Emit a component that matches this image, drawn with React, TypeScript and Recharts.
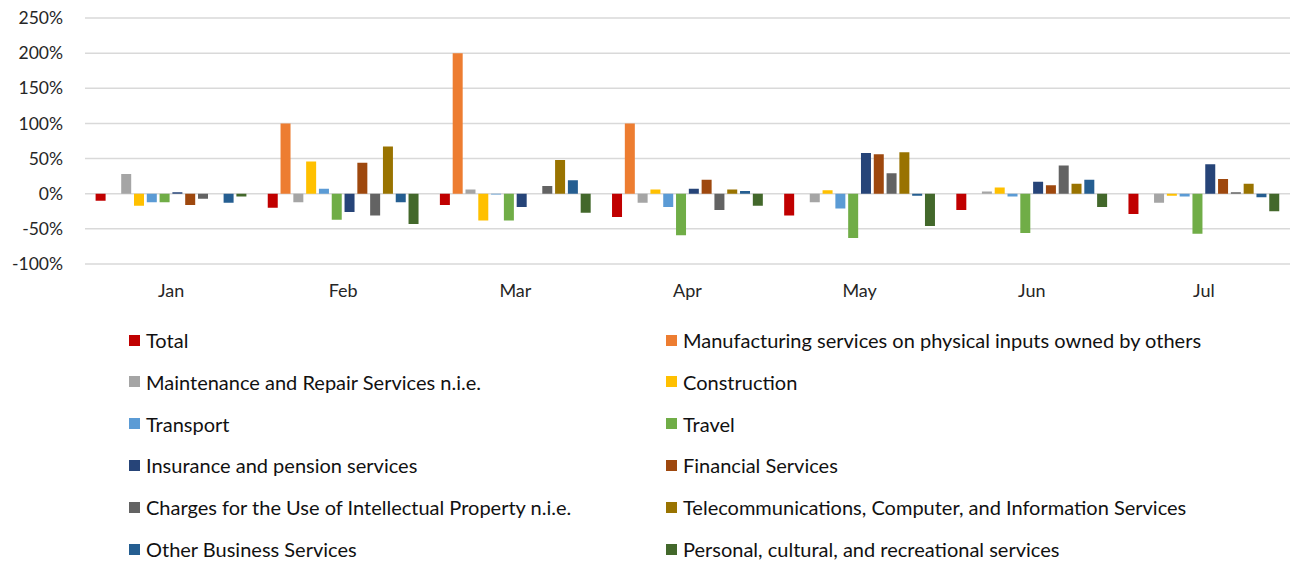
import { BarChart, Bar, XAxis, YAxis, CartesianGrid, Legend } from 'recharts';

const months = ['Jan', 'Feb', 'Mar', 'Apr', 'May', 'Jun', 'Jul'];

const seriesNames = [
  'Total',
  'Manufacturing services on physical inputs owned by others',
  'Maintenance and Repair Services n.i.e.',
  'Construction',
  'Transport',
  'Travel',
  'Insurance and pension services',
  'Financial Services',
  'Charges for the Use of Intellectual Property n.i.e.',
  'Telecommunications, Computer, and Information Services',
  'Other Business Services',
  'Personal, cultural, and recreational services',
];

const seriesColors = [
  '#C00000', '#ED7D31', '#A5A5A5', '#FFC000', '#5B9BD5', '#70AD47',
  '#264478', '#9E480E', '#636363', '#997300', '#255E91', '#43682B',
];

// percent change, one value per month (Jan..Jul)
const total = [-10, -20, -16, -33, -31, -23, -29];
const manufacturing = [0, 100, 200, 100, 0, 0, 0];
const maintenance = [28, -12, 6, -13, -12, 3, -13];
const construction = [-17, 46, -38, 6, 5, 9, -3];
const transport = [-12, 7, -1, -19, -21, -4, -4];
const travel = [-12, -37, -38, -59, -63, -56, -57];
const insurance = [2, -26, -19, 7, 58, 17, 42];
const financial = [-16, 44, 0, 20, 56, 12, 21];
const chargesIP = [-7, -31, 11, -23, 29, 40, 2];
const telecom = [0, 67, 48, 6, 59, 14, 14];
const otherBusiness = [-13, -12, 19, 4, -3, 20, -5];
const personal = [-4, -43, -27, -17, -46, -19, -25];

const yTicks = [-100, -50, 0, 50, 100, 150, 200, 250];

const seriesValues = [
  total, manufacturing, maintenance, construction, transport, travel,
  insurance, financial, chargesIP, telecom, otherBusiness, personal,
];

const data = months.map((m, i) => {
  const row: Record<string, string | number> = { month: m };
  seriesNames.forEach((name, s) => {
    row['s' + s] = seriesValues[s][i];
  });
  return row;
});

const FONT = 'Lato, "Noto Sans", sans-serif';

function LegendGrid() {
  return (
    <div style={{ position: 'relative', width: 1292, height: 240, fontFamily: FONT }}>
      {seriesNames.map((name, i) => {
        const col = i % 2;
        const row = Math.floor(i / 2);
        return (
          <div
            key={name}
            style={{
              position: 'absolute',
              left: col === 0 ? 129 : 666,
              top: row * 41.8,
              height: 20,
              display: 'flex',
              alignItems: 'center',
              whiteSpace: 'nowrap',
              fontSize: 20,
              color: '#111',
            }}
          >
            <span style={{ display: 'inline-block', width: 11, height: 11, background: seriesColors[i], marginRight: 6 }} />
            {name}
          </div>
        );
      })}
    </div>
  );
}

export default function App() {
  return (
    <div style={{ position: 'absolute', left: 0, top: 0, width: 1292, height: 563, background: '#fff' }}>
      <BarChart
        width={1292}
        height={563}
        data={data}
        margin={{ top: 18, right: 2, left: 0, bottom: 259 }}
        barCategoryGap={10.6}
        barGap={2.8}
      >
        <CartesianGrid vertical={false} stroke="#d9d9d9" strokeWidth={1.5} />
        <XAxis
          dataKey="month"
          height={40}
          axisLine={false}
          tickLine={false}
          tickSize={0}
          tickMargin={20}
          tick={{ fontSize: 18, fill: '#262626', fontFamily: FONT }}
        />
        <YAxis
          width={85}
          domain={[-100, 250]}
          ticks={yTicks}
          allowDataOverflow
          axisLine={false}
          tickLine={false}
          tickSize={0}
          tickMargin={22}
          tickFormatter={(v: number) => `${v}%`}
          tick={{ fontSize: 17.5, fill: '#262626', fontFamily: FONT }}
        />
        <Legend
          layout="horizontal"
          verticalAlign="middle"
          align="center"
          wrapperStyle={{ top: 330, left: 0, width: 1292 }}
          content={() => <LegendGrid />}
        />
        {seriesNames.map((name, i) => (
          <Bar key={name} dataKey={'s' + i} name={name} fill={seriesColors[i]} isAnimationActive={false} />
        ))}
      </BarChart>
    </div>
  );
}
